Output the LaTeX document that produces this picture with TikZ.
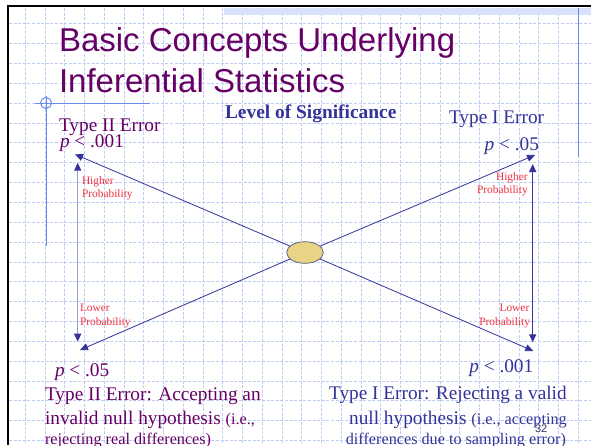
\documentclass[tikz,border=0pt]{standalone}
\usepackage{fontspec}
\setmainfont{Liberation Serif}
\newfontfamily\titlefont{Liberation Sans}
\usetikzlibrary{arrows.meta,shapes.geometric}
\definecolor{ttlpurple}{HTML}{660066}
\definecolor{navy}{HTML}{333399}
\definecolor{redlbl}{HTML}{F2303F}
\definecolor{gridblue}{HTML}{BFCDF6}
\definecolor{accentblue}{HTML}{6A8AF0}
\definecolor{ellfill}{HTML}{E9D485}
\definecolor{ellline}{HTML}{55557F}
\definecolor{lightline}{HTML}{9A9AC8}
\definecolor{bandblue}{HTML}{D8E2FA}
\definecolor{pagenum}{HTML}{333366}
\begin{document}
\begin{tikzpicture}[x=1pt,y=-1pt,
  txt/.style={inner sep=0pt, outer sep=0pt},
  ttl/.style={txt, anchor=base west, text=ttlpurple, font=\titlefont\fontsize{33}{38}\selectfont},
  bigP/.style={txt, text=ttlpurple, font=\fontsize{19.3}{23}\selectfont},
  bigN/.style={txt, text=navy, font=\fontsize{19.3}{23}\selectfont},
  redsm/.style={txt, text=redlbl, font=\fontsize{11.4}{13}\selectfont},
  gridline/.style={gridblue, line width=0.7pt, dash pattern=on 3pt off 1.6pt},
  accent/.style={accentblue, line width=1pt},
  tip/.style={-{Triangle[length=8pt,width=7pt]}},
  diag/.style={navy, line width=0.8pt, tip},
  vleft/.style={lightline, line width=1.5pt, {Triangle[length=8pt,width=7pt,color=navy]}-{Triangle[length=8pt,width=7pt,color=navy]}},
  vright/.style={navy, line width=1.1pt, {Triangle[length=8pt,width=7pt]}-{Triangle[length=8pt,width=7pt]}}
]
\useasboundingbox (0,0) rectangle (591,445);
\fill[white] (0,0) rectangle (591,445);
% grid
\foreach \gx in {25.25,45,...,590} \draw[gridline] (\gx,8) -- (\gx,445);
\foreach \gy in {23.65,43.5,...,444} \draw[gridline] (9,\gy) -- (591,\gy);
% top band
\fill[bandblue] (224,7.5) rectangle (591,14.5);
% border
\draw[black, line width=2.6pt] (7.8,445) -- (7.8,6) -- (591,6);
% accent lines
\draw[accent] (578.5,7.5) -- (578.5,157);
\draw[accent] (35,103) -- (150,103);
\draw[accent] (46,96) -- (46,246);
\draw[accent] (46,103) circle (5.5);
% title
\node[ttl] (t1) at (59,51) {Basic Concepts Underlying};
\node[ttl] (t2) at (59,92) {Inferential Statistics};
% headings
\node[txt, anchor=base west, text=navy, font=\bfseries\fontsize{19.4}{23}\selectfont] (los) at (225,118.3) {Level of Significance};
\node[bigP, anchor=base west] (t2e) at (59,131) {Type II Error};
\node[bigP, anchor=base west] (p001a) at (60,147.5) {\itshape p\upshape{} < .001};
\node[bigN, anchor=base west] (t1e) at (449,123.3) {Type I Error};
\node[bigN, anchor=base east] (p05a) at (539,150) {\itshape p\upshape{} < .05};
% red labels
\node[redsm, anchor=base west] (hl1) at (82,184) {Higher};
\node[redsm, anchor=base west] (hl2) at (82,197) {Probability};
\node[redsm, anchor=base east] (hr1) at (527.7,180) {Higher};
\node[redsm, anchor=base east] (hr2) at (527.7,193.3) {Probability};
\node[redsm, anchor=base west] (ll1) at (80,311.7) {Lower};
\node[redsm, anchor=base west] (ll2) at (80,325) {Probability};
\node[redsm, anchor=base east] (lr1) at (529.3,311.7) {Lower};
\node[redsm, anchor=base east] (lr2) at (530,325) {Probability};
% lower p values
\node[bigP, anchor=base west] (p05b) at (55,376) {\itshape p\upshape{} < .05};
\node[bigN, anchor=base east] (p001b) at (533.3,372.7) {\itshape p\upshape{} < .001};
% bottom texts
\node[bigP, anchor=base west] (b1) at (45,400) {Type II Error: Accepting an};
\node[bigP, anchor=base west] (b2) at (45,424.3) {invalid null hypothesis {\fontsize{16.2}{20}\selectfont (i.e.,}};
\node[bigP, anchor=base west, font=\fontsize{16.2}{20}\selectfont] (b3) at (45,444.5) {rejecting real differences)};
\node[bigN, anchor=base east] (c1) at (566.7,399.3) {Type I Error: Rejecting a valid};
\node[bigN, anchor=base east] (c2) at (566.7,424.3) {null hypothesis {\fontsize{16.2}{20}\selectfont (i.e., accepting}};
\node[bigN, anchor=base east, font=\fontsize{16.2}{20}\selectfont] (c3) at (566,444.5) {differences due to sampling error)};
\node[txt, anchor=base west, text=pagenum, font=\titlefont\fontsize{11}{13}\selectfont] (pg) at (535,432.7) {32};
% ellipse and arrows
\node[ellipse, draw=ellline, line width=0.7pt, fill=ellfill, minimum width=36.6pt, minimum height=21.6pt, inner sep=0pt] (ell) at (305,252.5) {};
\coordinate (tl) at (75,154.3);
\coordinate (tr) at (535,155);
\coordinate (bl) at (80,350);
\coordinate (br) at (533.3,351);
\draw[diag] (ell) -- (tl);
\draw[diag] (ell) -- (tr);
\draw[diag] (ell) -- (bl);
\draw[diag] (ell) -- (br);
\coordinate (lvt) at (77.7,162.7);
\coordinate (lvb) at (77.7,341.7);
\coordinate (rvt) at (532.7,164);
\coordinate (rvb) at (532.7,342.3);
\draw[vleft] (lvb) -- (lvt);
\draw[vright] (rvb) -- (rvt);
\end{tikzpicture}
\end{document}
